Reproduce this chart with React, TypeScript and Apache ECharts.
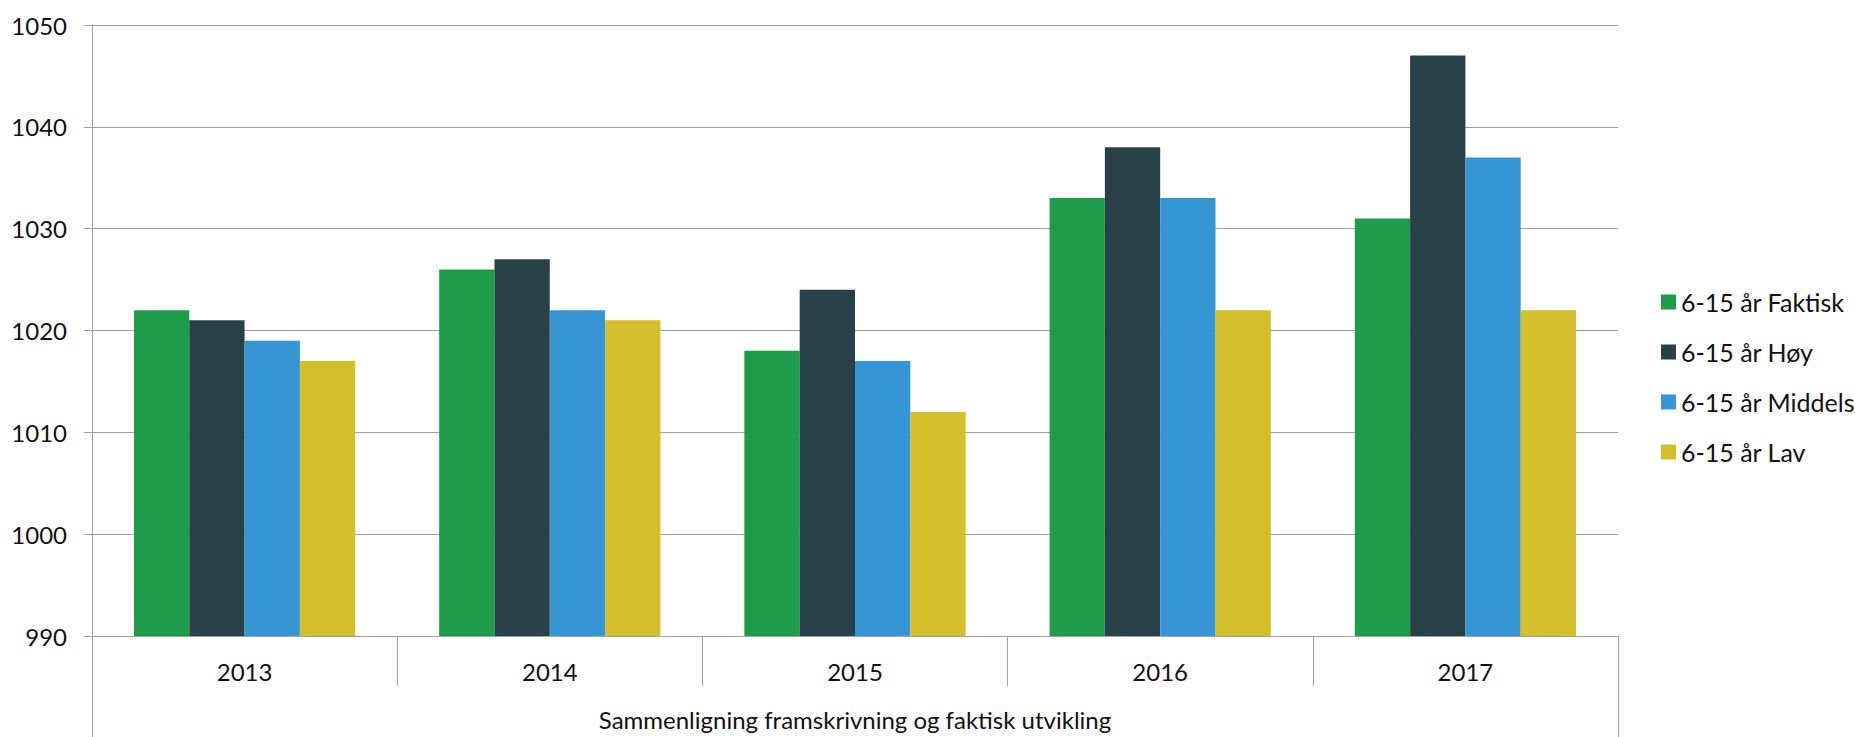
import React, { useEffect, useRef } from "react";
import * as echarts from "echarts";

const years = ["2013", "2014", "2015", "2016", "2017"];
const outerLabel = ["Sammenligning framskrivning og faktisk utvikling"];
const seriesNames = ["6-15 år Faktisk", "6-15 år Høy", "6-15 år Middels", "6-15 år Lav"];
const faktisk = [1022, 1026, 1018, 1033, 1031];
const hoy = [1021, 1027, 1024, 1038, 1047];
const middels = [1019, 1022, 1017, 1033, 1037];
const lav = [1017, 1021, 1012, 1022, 1022];
const colors = ["#1e9c4a", "#284148", "#3596d3", "#d3be2b"];
const yTicks = { min: 990, max: 1050, interval: 10 };

export default function App() {
  const ref = useRef<HTMLDivElement>(null);
  useEffect(() => {
    document.body.style.margin = "0";
    document.body.style.overflow = "hidden";
    const chart = echarts.init(ref.current!, undefined, { renderer: "svg" });
    const font = "Lato, 'Open Sans', sans-serif";
    const gridColor = "#a0a0a0";
    const textColor = "#111111";
    const allData = [faktisk, hoy, middels, lav];
    chart.setOption({
      animation: false,
      textStyle: { fontFamily: font },
      grid: { left: 92, right: 237, top: 25, bottom: 101, containLabel: false },
      legend: {
        orient: "vertical",
        left: 1661,
        top: 289,
        padding: 0,
        itemWidth: 15,
        itemHeight: 15,
        itemGap: 24,
        icon: "rect",
        data: seriesNames,
        textStyle: { fontSize: 25, color: textColor, fontFamily: font, lineHeight: 26 },
      },
      xAxis: [
        {
          type: "category",
          data: years,
          position: "bottom",
          axisLine: { show: true, lineStyle: { color: gridColor, width: 1 } },
          axisTick: { show: true, interval: 0, length: 50, lineStyle: { color: gridColor } },
          axisLabel: { fontSize: 24, color: textColor, margin: 23, fontFamily: font },
        },
        {
          type: "category",
          data: outerLabel,
          position: "bottom",
          axisLine: { show: false },
          axisTick: { show: true, length: 101, lineStyle: { color: gridColor } },
          axisLabel: { fontSize: 24, color: textColor, margin: 71, fontFamily: font },
        },
      ],
      yAxis: {
        type: "value",
        min: yTicks.min,
        max: yTicks.max,
        interval: yTicks.interval,
        axisLine: { show: true, lineStyle: { color: gridColor, width: 1 } },
        axisTick: { show: true, length: 8, lineStyle: { color: gridColor } },
        splitLine: { show: true, lineStyle: { color: gridColor, width: 1 } },
        axisLabel: {
          fontSize: 24,
          color: textColor,
          margin: 25,
          fontFamily: font,
          formatter: (v: number) => String(v),
        },
      },
      series: seriesNames.map((name, i) => ({
        name,
        type: "bar",
        xAxisIndex: 0,
        data: allData[i],
        barGap: "0%",
        barCategoryGap: "27.5%",
        itemStyle: { color: colors[i] },
      })),
    });
    return () => chart.dispose();
  }, []);
  return <div ref={ref} style={{ width: 1855, height: 737 }} />;
}
